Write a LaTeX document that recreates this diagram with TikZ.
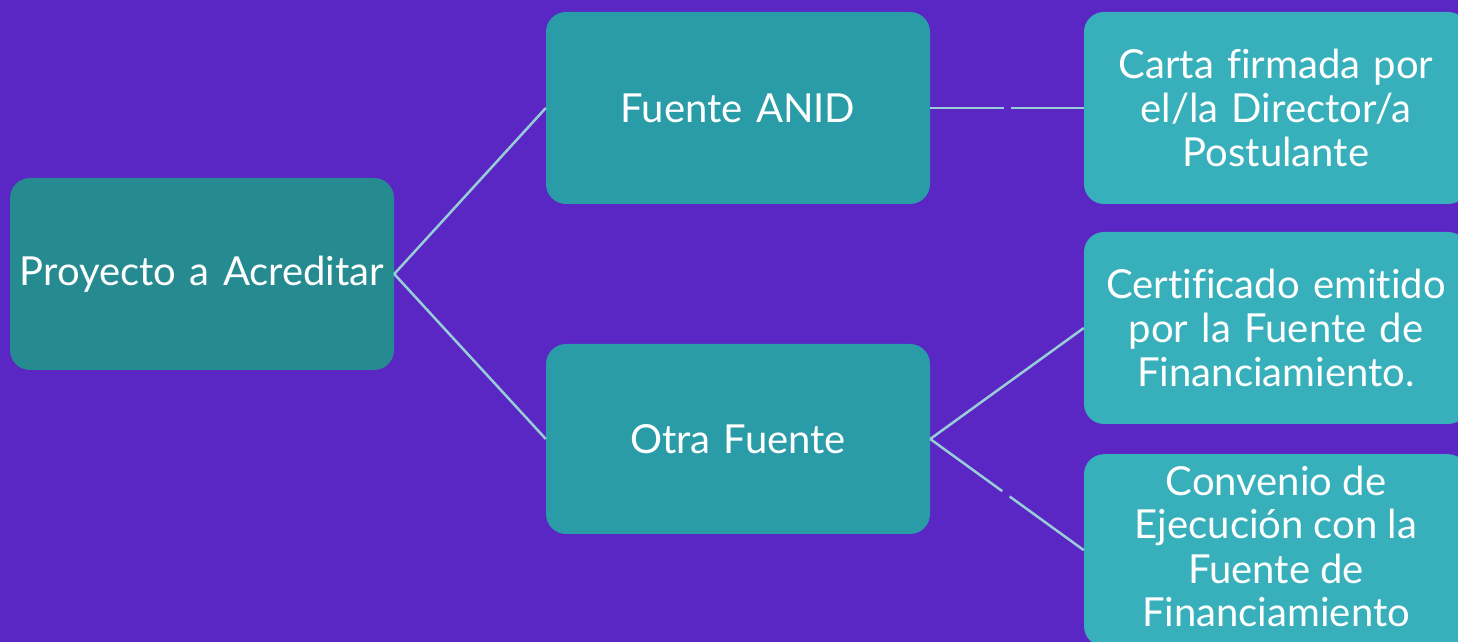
\documentclass[tikz,border=0pt]{standalone}
\usepackage{fontspec}
\setmainfont{Lato}[Ligatures=NoCommon]
\definecolor{bgpurple}{RGB}{90,38,196}
\definecolor{rootteal}{RGB}{37,139,145}
\definecolor{midteal}{RGB}{42,156,168}
\definecolor{leafteal}{RGB}{56,176,188}
\definecolor{linecol}{RGB}{150,205,215}
\tikzset{
  box/.style={rectangle, rounded corners=20pt, minimum width=384pt, inner sep=0pt,
    text=white, align=center, text width=374pt,
    font=\fontsize{40}{44}\selectfont},
  conn/.style={draw=linecol, line width=2.5pt}
}
\begin{document}
\begin{tikzpicture}[x=1pt,y=1pt]
\fill[bgpurple] (0,0) rectangle (1458,642);
\useasboundingbox (0,0) rectangle (1458,642);
\node[box, fill=rootteal, minimum height=192pt] (root) at (202,368) {Proyecto a Acreditar};
\node[box, fill=midteal, minimum height=192pt] (anid) at (738,534) {Fuente ANID};
\node[box, fill=midteal, minimum height=190pt] (otra) at (738,203) {Otra Fuente};
\node[box, fill=leafteal, minimum height=192pt] (carta) at (1276,534) {Carta firmada por\\el/la Director/a\\Postulante};
\node[box, fill=leafteal, minimum height=192pt] (cert) at (1276,314) {Certificado emitido\\por la Fuente de\\Financiamiento.};
\node[box, fill=leafteal, minimum height=192pt, anchor=north] (conv) at (1276,188) {};
\node[text=white, align=center, font=\fontsize{40}{44}\selectfont, anchor=base] (convtext) at (1276,15) {Convenio de\\Ejecución con la\\Fuente de\\Financiamiento};
\draw[conn] (root.east) -- (anid.west);
\draw[conn] (root.east) -- (otra.west);
\draw[conn, dash pattern=on 74pt off 7pt on 300pt] (anid.east) -- (carta.west);
\draw[conn] (otra.east) -- (cert.west);
\draw[conn, dash pattern=on 89pt off 9pt on 300pt] (otra.east) -- (conv.west);
\end{tikzpicture}
\end{document}
